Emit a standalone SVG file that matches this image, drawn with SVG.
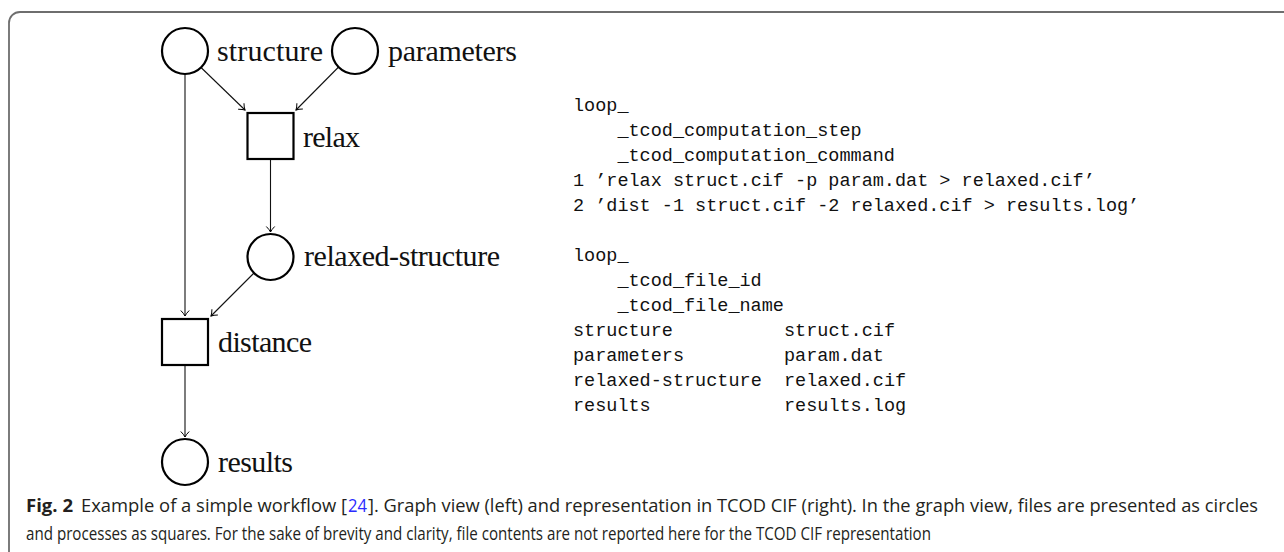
<svg xmlns="http://www.w3.org/2000/svg" width="1284" height="552" viewBox="0 0 1284 552">
<defs>
<marker id="arr" markerWidth="12" markerHeight="12" refX="10" refY="6" orient="auto" markerUnits="userSpaceOnUse">
<path d="M4.5,1.8 Q7.5,4.8 10,6 Q7.5,7.2 4.5,10.2" fill="none" stroke="#000" stroke-width="1"/>
</marker>
<style>
.node{fill:#fff;stroke:#000;stroke-width:2.2}
.lbl{font-family:"Liberation Serif","Times New Roman",serif;font-size:30px;fill:#111}
.code{font-family:"Liberation Mono","Courier New",monospace;font-size:18.5px;fill:#111}
.cap{font-family:"Open Sans","Noto Sans",sans-serif;font-size:18px;fill:#231f20}
.edge{fill:none;stroke:#111;stroke-width:1.1;marker-end:url(#arr)}
</style>
</defs>
<rect x="9" y="12" width="1320" height="580" rx="11" fill="#fff" stroke="#6e6e6e" stroke-width="1.8"/>
<g id="connectors">
<line class="edge" x1="200.5" y1="67" x2="245" y2="110"/>
<line class="edge" x1="338.6" y1="67" x2="296" y2="110"/>
<line class="edge" x1="270.5" y1="159" x2="270.5" y2="232"/>
<line class="edge" x1="185" y1="74" x2="185" y2="316"/>
<line class="edge" x1="254" y1="273" x2="211" y2="316"/>
<line class="edge" x1="185" y1="365" x2="185" y2="437"/>
</g>
<g id="node-structure"><circle class="node" cx="185" cy="51" r="23"/><text class="lbl" x="217" y="61" textLength="106">structure</text></g>
<g id="node-parameters"><circle class="node" cx="355" cy="51" r="23"/><text class="lbl" x="388" y="61" textLength="129">parameters</text></g>
<g id="node-relax"><rect class="node" x="247.5" y="113" width="46" height="46"/><text class="lbl" x="303" y="147" textLength="57">relax</text></g>
<g id="node-relaxed-structure"><circle class="node" cx="270.5" cy="257" r="23"/><text class="lbl" x="304" y="266" textLength="196">relaxed-structure</text></g>
<g id="node-distance"><rect class="node" x="162" y="319" width="46" height="46"/><text class="lbl" x="218" y="352" textLength="94">distance</text></g>
<g id="node-results"><circle class="node" cx="185" cy="462" r="23"/><text class="lbl" x="218" y="472" textLength="75">results</text></g>
<g id="code" class="code" xml:space="preserve">
<text x="573" y="111">loop_</text>
<text x="617.4" y="136">_tcod_computation_step</text>
<text x="617.4" y="161">_tcod_computation_command</text>
<text x="573" y="186">1 ’relax struct.cif -p param.dat &gt; relaxed.cif’</text>
<text x="573" y="211">2 ’dist -1 struct.cif -2 relaxed.cif &gt; results.log’</text>
<text x="573" y="261">loop_</text>
<text x="617.4" y="286">_tcod_file_id</text>
<text x="617.4" y="311">_tcod_file_name</text>
<text x="573" y="336">structure</text><text x="784" y="336">struct.cif</text>
<text x="573" y="361">parameters</text><text x="784" y="361">param.dat</text>
<text x="573" y="386">relaxed-structure</text><text x="784" y="386">relaxed.cif</text>
<text x="573" y="411">results</text><text x="784" y="411">results.log</text>
</g>
<g id="caption" class="cap">
<text x="26" y="512" font-weight="bold" textLength="47" lengthAdjust="spacingAndGlyphs">Fig. 2</text>
<text x="81" y="512" textLength="266" lengthAdjust="spacingAndGlyphs">Example of a simple workflow [</text>
<text x="348" y="512" fill="#2b2bff" textLength="19" lengthAdjust="spacingAndGlyphs">24</text>
<text x="368" y="512" textLength="890" lengthAdjust="spacingAndGlyphs">]. Graph view (left) and representation in TCOD CIF (right). In the graph view, files are presented as circles</text>
<text x="26" y="540" textLength="905" lengthAdjust="spacingAndGlyphs">and processes as squares. For the sake of brevity and clarity, file contents are not reported here for the TCOD CIF representation</text>
</g>
</svg>
